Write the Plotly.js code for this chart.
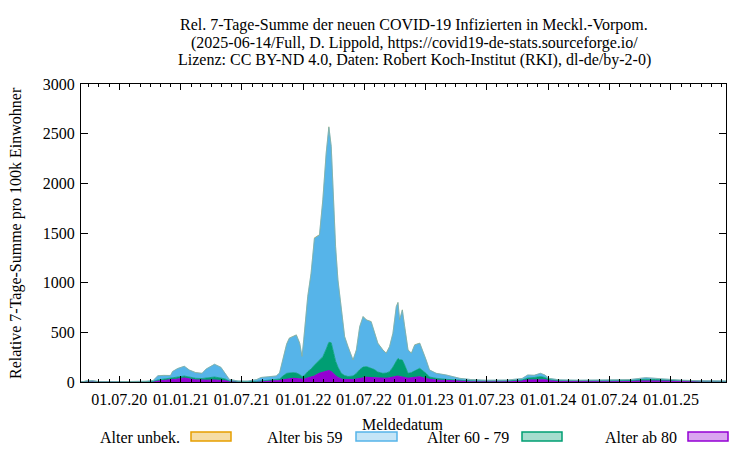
<!DOCTYPE html>
<html>
<head>
<meta charset="utf-8">
<script src="https://cdn.plot.ly/plotly-3.0.1.min.js"></script>
<style>html,body{margin:0;padding:0;background:#fff;}#chart{width:750px;height:450px;}</style>
</head>
<body>
<div id="chart"></div>
<script>
// Meldedatum (sampling points)
const dates = [
 '2020-03-09','2020-03-25','2020-04-12','2020-05-05','2020-06-10','2020-07-15','2020-08-20','2020-09-20','2020-10-10','2020-10-24',
 '2020-11-10','2020-12-01','2020-12-07','2020-12-22','2021-01-11','2021-01-26','2021-02-14','2021-03-05','2021-03-17','2021-04-11',
 '2021-04-30','2021-05-13','2021-05-25','2021-06-20','2021-07-20','2021-08-15','2021-08-28','2021-09-20','2021-10-12','2021-10-22',
 '2021-11-01','2021-11-12','2021-11-20','2021-12-01','2021-12-11','2021-12-21','2021-12-28','2022-01-02','2022-01-14','2022-01-24',
 '2022-02-03','2022-02-18','2022-02-28','2022-03-10','2022-03-18','2022-03-25','2022-03-30','2022-04-07','2022-04-14','2022-04-24',
 '2022-05-04','2022-05-14','2022-05-29','2022-06-08','2022-06-18','2022-06-28','2022-07-08','2022-07-22','2022-08-01','2022-08-11',
 '2022-08-26','2022-09-05','2022-09-15','2022-09-25','2022-10-05','2022-10-10','2022-10-15','2022-10-23','2022-10-30','2022-11-09',
 '2022-11-19','2022-11-29','2022-12-14','2022-12-24','2023-01-02','2023-01-12','2023-02-01','2023-03-03','2023-03-23','2023-04-12',
 '2023-05-15','2023-07-01','2023-09-01','2023-10-15','2023-11-01','2023-11-20','2023-12-09','2023-12-22','2024-01-03','2024-02-01',
 '2024-04-01','2024-07-01','2024-09-01','2024-10-18','2024-11-15','2024-12-15','2025-02-01','2025-04-01','2025-06-14'
];
// Alter ab 80
const ab80 = [
 0,6,7,1,1,0,1,1,3,10, 14,20,22,30,40,30,20,18,16,20, 15,12,5,2,1,3,5,7,10,14,
 22,30,33,37,35,30,25,27,40,50, 60,87,95,108,114,104,85,60,45,30, 27,25,25,30,38,45,47,45,42,37,
 35,37,42,50,58,60,55,50,42,37, 42,48,53,42,35,27,20,15,12,10, 8,7,8,12,20,22,27,22,15,10,
 9,9,10,15,14,12,8,6,5
];
// Alter 60 - 79
const a6079 = [
 0,2,2,1,0,1,1,2,3,10, 14,15,18,20,20,20,17,17,22,30, 25,18,5,2,2,3,5,7,10,16,
 38,57,57,57,55,45,30,33,65,80, 110,133,160,222,286,291,237,150,105,57, 38,30,35,57,87,105,108,95,83,63,
 52,53,62,100,162,178,170,171,128,50, 53,62,85,68,52,23,17,12,10,7, 4,3,3,8,20,23,28,23,10,4,
 3,3,5,13,11,8,4,2,2
];
// Alter bis 59
const bis59 = [
 0,2,3,1,1,2,4,5,9,42, 38,30,65,85,98,70,57,52,92,128, 108,57,17,6,7,19,35,39,40,60,
 161,293,350,361,383,315,200,363,754,964, 1277,1260,1578,1973,2165,1975,1645,1152,877,638, 391,301,161,235,432,508,469,467,365,290,
 235,199,252,340,538,561,399,504,387,235, 194,263,252,195,134,71,50,43,31,20, 13,8,9,15,30,22,32,25,12,8,
 6,6,10,16,12,10,6,4,3
];
// Alter unbek.
const unbek = [
 0,0,0,0,0,0,0,0,0,1, 1,1,1,1,1,1,1,1,1,1, 1,1,0,0,0,0,1,1,1,1,
 2,2,2,2,2,2,2,2,3,3, 4,4,5,6,6,6,5,4,3,2, 2,2,1,2,2,2,2,2,2,2,
 2,2,2,2,3,3,3,3,2,2, 2,2,2,2,1,1,1,1,0,0, 0,0,0,0,1,1,1,1,0,0,
 0,0,0,0,0,0,0,0,0
];

const legendNames = ['Alter unbek.', 'Alter bis 59', 'Alter 60 - 79', 'Alter ab 80'];
const colors = {unbek:'#e69f00', bis59:'#56b4e9', a6079:'#009e73', ab80:'#9400d3'};
const legendFill = ['rgba(230,159,0,0.35)','rgba(86,180,233,0.35)','rgba(0,158,115,0.35)','rgba(148,0,211,0.35)'];
const legendLine = [colors.unbek, colors.bis59, colors.a6079, colors.ab80];

const FONT = 'Liberation Serif, Times New Roman, serif';

function area(y, name, col, lcol, lw) {
  return {x: dates, y: y, name: name, type: 'scatter', mode: 'lines', stackgroup: 'one',
          line: {color: lcol, width: lw}, fillcolor: col, showlegend: false, hoverinfo: 'skip'};
}
const traces = [
  area(ab80, legendNames[3], colors.ab80, colors.ab80, 1.2),
  area(a6079, legendNames[2], colors.a6079, colors.a6079, 0.8),
  area(bis59, legendNames[1], colors.bis59, colors.bis59, 0.8),
  area(unbek, legendNames[0], colors.unbek, 'rgba(160,170,110,0.8)', 0.6)
];

// layout geometry in pixels
const L = 81, R = 726, T = 84, B = 382, W = 750, H = 450;
const px = v => (v - L) / (R - L);
const py = v => (B - v) / (B - T);

const annotations = [];
const titleLines = [
  'Rel. 7-Tage-Summe der neuen COVID-19 Infizierten in Meckl.-Vorpom.',
  '(2025-06-14/Full, D. Lippold, https://covid19-de-stats.sourceforge.io/',
  'Lizenz: CC BY-ND 4.0, Daten: Robert Koch-Institut (RKI), dl-de/by-2-0)'
];
const titleY = [25, 43, 60];
titleLines.forEach((t, i) => annotations.push({text: t, xref: 'paper', yref: 'paper', x: px(414), y: py(titleY[i]),
  xanchor: 'center', yanchor: 'middle', showarrow: false, font: {family: FONT, size: 16, color: '#000'}}));
annotations.push({text: 'Meldedatum', xref: 'paper', yref: 'paper', x: px(402), y: py(424), xanchor: 'center', yanchor: 'middle',
  showarrow: false, font: {family: FONT, size: 16, color: '#000'}});
annotations.push({text: 'Relative 7-Tage-Summe pro 100k Einwohner', xref: 'paper', yref: 'paper', x: px(16), y: py(233),
  xanchor: 'center', yanchor: 'middle', textangle: -90, showarrow: false, font: {family: FONT, size: 16, color: '#000'}});

const legTextEnd = [182, 345, 511, 679];
const legBox = [[191, 231], [356, 397], [522, 562], [688, 728]];
const shapes = [];
legendNames.forEach((n, i) => {
  annotations.push({text: n, xref: 'paper', yref: 'paper', x: px(legTextEnd[i]), y: py(437), xanchor: 'right', yanchor: 'middle',
    showarrow: false, font: {family: FONT, size: 16, color: '#000'}});
  shapes.push({type: 'rect', xref: 'paper', yref: 'paper', x0: px(legBox[i][0]), x1: px(legBox[i][1]), y0: py(441), y1: py(432),
    fillcolor: legendFill[i], line: {color: legendLine[i], width: 1.5}});
});

const layout = {
  width: W, height: H,
  margin: {l: L, r: W - R, t: T, b: H - B, pad: 0},
  paper_bgcolor: '#fff', plot_bgcolor: '#fff',
  font: {family: FONT, size: 16, color: '#000'},
  showlegend: false,
  xaxis: {
    type: 'date', range: ['2020-03-09', '2025-06-14'],
    tick0: '2020-07-01', dtick: 'M6', tickformat: '%d.%m.%y',
    ticks: 'inside', ticklen: 6, tickcolor: '#000', tickwidth: 1,
    ticklabelstandoff: 3,
    minor: {dtick: 'M1', ticks: 'inside', ticklen: 3, tickcolor: '#000', tickwidth: 1, showgrid: false},
    showline: true, linecolor: '#000', linewidth: 1, mirror: 'ticks',
    showgrid: false, zeroline: false,
    tickfont: {family: FONT, size: 16, color: '#000'}
  },
  yaxis: {
    range: [0, 3000], dtick: 500, tick0: 0,
    ticks: 'inside', ticklen: 7, tickcolor: '#000', tickwidth: 1,
    ticklabelstandoff: 2,
    showline: true, linecolor: '#000', linewidth: 1, mirror: 'ticks',
    showgrid: false, zeroline: false,
    tickfont: {family: FONT, size: 16, color: '#000'}
  },
  annotations: annotations,
  shapes: shapes
};

Plotly.newPlot('chart', traces, layout, {staticPlot: true, displayModeBar: false});
</script>
</body>
</html>
